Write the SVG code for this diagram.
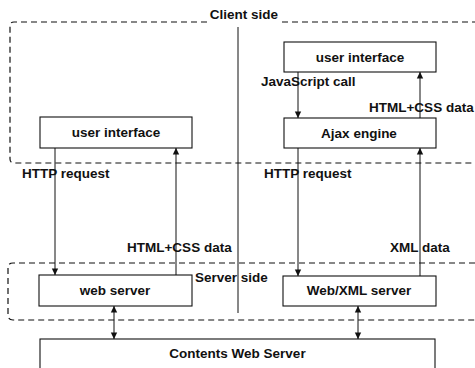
<svg xmlns="http://www.w3.org/2000/svg" width="475" height="368" viewBox="0 0 475 368">
<style>
text{font-family:"Liberation Sans",Arial,sans-serif;font-weight:bold;font-size:13.5px;fill:#111}
.c{text-anchor:middle}
.box{fill:#fff;stroke:#111;stroke-width:1.1}
.dash{fill:none;stroke:#111;stroke-width:1.2;stroke-dasharray:6,4}
.ln{fill:none;stroke:#111;stroke-width:1}
</style>
<defs>
<marker id="ah" viewBox="0 0 8 10" refX="8" refY="5" markerWidth="7" markerHeight="8" markerUnits="userSpaceOnUse" orient="auto-start-reverse">
<path d="M0,1 L8,5 L0,9 z" fill="#111"/>
</marker>
</defs>
<rect width="475" height="368" fill="#fff"/>
<g id="client-side">
<path class="dash" d="M207,22 H14 Q10,22 10,26 V159 Q10,163 14,163 H475"/>
<path class="dash" d="M282,22 H475"/>
<text class="c" x="244" y="19">Client side</text>
</g>
<g id="server-side">
<path class="dash" d="M475,263 H13 Q8,263 8,268 V315 Q8,320 13,320 H475"/>
<text x="195" y="282">Server side</text>
</g>
<g id="divider">
<line class="ln" x1="238" y1="27" x2="238" y2="313"/>
</g>
<g id="ui-left">
<rect class="box" x="40" y="117" width="152" height="31"/>
<text class="c" x="116" y="137">user interface</text>
</g>
<g id="ui-right">
<rect class="box" x="284" y="42" width="152" height="30"/>
<text class="c" x="360" y="62">user interface</text>
</g>
<g id="ajax-engine">
<rect class="box" x="284" y="118" width="152" height="30"/>
<text class="c" x="359" y="138">Ajax engine</text>
</g>
<g id="web-server">
<rect class="box" x="39" y="275" width="153" height="31"/>
<text class="c" x="115" y="295">web server</text>
</g>
<g id="webxml-server">
<rect class="box" x="283" y="276" width="153" height="30"/>
<text class="c" x="359" y="295">Web/XML server</text>
</g>
<g id="contents-web-server">
<rect class="box" x="40" y="339" width="395" height="40"/>
<text class="c" x="237.5" y="358">Contents Web Server</text>
</g>
<g id="connectors">
<line class="ln" x1="55" y1="148" x2="55" y2="275" marker-end="url(#ah)"/>
<line class="ln" x1="176" y1="275" x2="176" y2="148" marker-end="url(#ah)"/>
<line class="ln" x1="298" y1="72" x2="298" y2="118" marker-end="url(#ah)"/>
<line class="ln" x1="420" y1="118" x2="420" y2="72" marker-end="url(#ah)"/>
<line class="ln" x1="298" y1="148" x2="298" y2="276" marker-end="url(#ah)"/>
<line class="ln" x1="420" y1="276" x2="420" y2="148" marker-end="url(#ah)"/>
<line class="ln" x1="114" y1="306" x2="114" y2="339" marker-start="url(#ah)" marker-end="url(#ah)"/>
<line class="ln" x1="358" y1="306" x2="358" y2="339" marker-start="url(#ah)" marker-end="url(#ah)"/>
<text x="261" y="86">JavaScript call</text>
<text x="369" y="112">HTML+CSS data</text>
<text x="22" y="178">HTTP request</text>
<text x="264" y="178">HTTP request</text>
<text x="127" y="252">HTML+CSS data</text>
<text x="390" y="252">XML data</text>
</g>
</svg>
